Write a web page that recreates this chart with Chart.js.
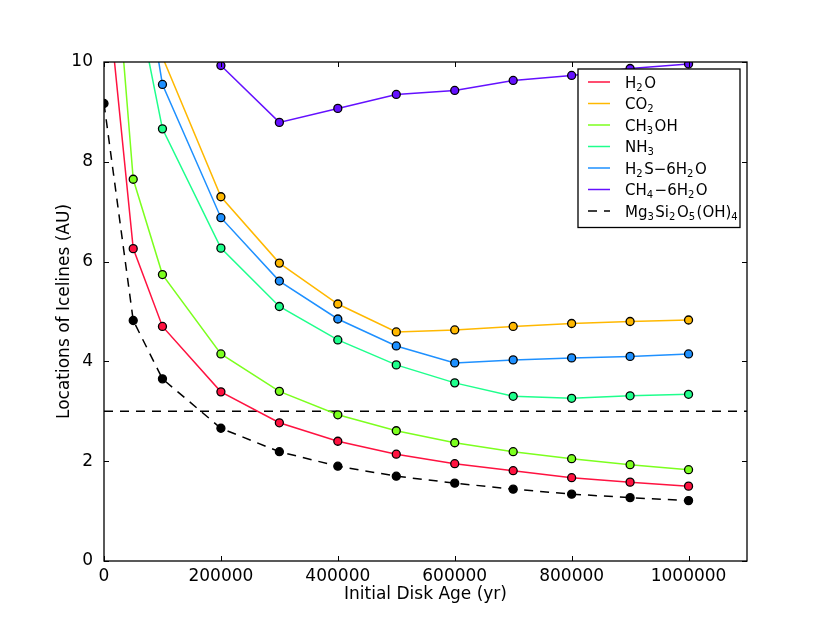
<!DOCTYPE html>
<html>
<head>
<meta charset="utf-8">
<script src="https://cdn.jsdelivr.net/npm/chart.js@4/dist/chart.umd.min.js"></script>
<style>
  body { margin: 0; background: #fff; }
</style>
</head>
<body>
<canvas id="icelines" width="830" height="623"></canvas>
<script>
// disk ages (yr)
const ages = [0, 50000, 100000, 200000, 300000, 400000, 500000, 600000, 700000, 800000, 900000, 1000000];

// iceline locations (AU), first points run off the top of the plot
const h2o   = [12.1, 6.26, 4.70, 3.39, 2.77, 2.40, 2.14, 1.95, 1.81, 1.67, 1.58, 1.50];
const co2   = [20.0, 15.0, 10.1, 7.30, 5.97, 5.15, 4.59, 4.63, 4.70, 4.76, 4.80, 4.83];
const ch3oh = [14.9, 7.65, 5.74, 4.15, 3.40, 2.93, 2.61, 2.37, 2.19, 2.05, 1.93, 1.83];
const nh3   = [18.0, 11.6, 8.66, 6.27, 5.10, 4.43, 3.93, 3.57, 3.30, 3.26, 3.31, 3.34];
const h2s   = [19.0, 13.1, 9.55, 6.88, 5.61, 4.85, 4.31, 3.97, 4.03, 4.07, 4.10, 4.15];
const ch4   = [null, null, null, 9.93, 8.79, 9.07, 9.35, 9.43, 9.63, 9.73, 9.87, 9.96];
const serp  = [9.17, 4.82, 3.65, 2.66, 2.19, 1.90, 1.70, 1.56, 1.44, 1.34, 1.27, 1.21];

// horizontal reference line at 3 AU
const refX = [0, 1100000];
const refY = [3, 3];

const seriesNames = ['H2O', 'CO2', 'CH3OH', 'NH3', 'H2S−6H2O', 'CH4−6H2O', 'Mg3Si2O5(OH)4'];
const seriesData = [h2o, co2, ch3oh, nh3, h2s, ch4, serp];
const seriesColors = ['#ff1240', '#ffb800', '#7cff1e', '#1eff8c', '#1e90ff', '#6410ff', '#000000'];

const xTicks = [0, 200000, 400000, 600000, 800000, 1000000];
const yTicks = [0, 2, 4, 6, 8, 10];

Chart.defaults.font.family = 'DejaVu Sans';
Chart.defaults.font.size = 17;
Chart.defaults.color = '#000';

const toPoints = (xs, ys) => xs.map((x, i) => ({ x: x, y: ys[i] }));

const datasets = seriesData.map((vals, i) => {
  const isSerp = i === seriesData.length - 1;
  return {
    label: seriesNames[i],
    data: toPoints(ages, vals),
    borderColor: seriesColors[i],
    backgroundColor: seriesColors[i],
    borderWidth: 1.5,
    borderDash: isSerp ? [9, 7] : [],
    pointRadius: 4,
    pointBorderColor: '#000',
    pointBorderWidth: 1.3,
    pointBackgroundColor: seriesColors[i],
    tension: 0,
    spanGaps: false,
    clip: 0
  };
});

datasets.push({
  label: 'limit',
  data: toPoints(refX, refY),
  borderColor: '#000',
  borderWidth: 1.5,
  borderDash: [9, 7],
  pointRadius: 0,
  clip: 0
});

// split a formula into normal / subscript runs
function formulaRuns(text) {
  const runs = [];
  for (let i = 0; i < text.length; i++) {
    const ch = text[i];
    const prev = i > 0 ? text[i - 1] : '';
    const last = runs[runs.length - 1];
    const isSub = /[0-9]/.test(ch) &&
      (/[A-Za-z)]/.test(prev) || (/[0-9]/.test(prev) && last && last.sub));
    if (last && last.sub === isSub) {
      last.t += ch;
    } else {
      runs.push({ t: ch, sub: isSub });
    }
  }
  return runs;
}

const framePlugin = {
  id: 'frame',
  afterDatasetsDraw(chart) {
    const { ctx, chartArea: a, scales } = chart;
    ctx.save();
    ctx.strokeStyle = '#000';
    ctx.lineWidth = 1.3;
    ctx.setLineDash([]);
    ctx.strokeRect(a.left, a.top, a.right - a.left, a.bottom - a.top);
    ctx.lineWidth = 1;
    const len = 5;
    ctx.beginPath();
    xTicks.forEach(v => {
      const px = Math.round(scales.x.getPixelForValue(v)) + 0.5;
      ctx.moveTo(px, a.bottom); ctx.lineTo(px, a.bottom - len);
      ctx.moveTo(px, a.top); ctx.lineTo(px, a.top + len);
    });
    yTicks.forEach(v => {
      const py = Math.round(scales.y.getPixelForValue(v)) + 0.5;
      ctx.moveTo(a.left, py); ctx.lineTo(a.left + len, py);
      ctx.moveTo(a.right, py); ctx.lineTo(a.right - len, py);
    });
    ctx.stroke();
    ctx.restore();
  },
  afterDraw(chart) {
    const { ctx, chartArea: a } = chart;
    const boxW = 162, rowH = 21.5;
    const bx = a.right - 7 - boxW, by = a.top + 7;
    const boxH = rowH * seriesNames.length + 8;
    ctx.save();
    ctx.fillStyle = '#fff';
    ctx.fillRect(bx, by, boxW, boxH);
    ctx.strokeStyle = '#000';
    ctx.lineWidth = 1.3;
    ctx.strokeRect(bx, by, boxW, boxH);
    seriesNames.forEach((name, i) => {
      const cy = by + 13 + i * rowH;
      ctx.strokeStyle = seriesColors[i];
      ctx.lineWidth = 1.5;
      ctx.setLineDash(i === seriesNames.length - 1 ? [9, 7] : []);
      ctx.beginPath();
      ctx.moveTo(bx + 10, cy);
      ctx.lineTo(bx + 32, cy);
      ctx.stroke();
      ctx.setLineDash([]);
      let tx = bx + 47;
      ctx.fillStyle = '#000';
      ctx.textBaseline = 'alphabetic';
      formulaRuns(name).forEach(r => {
        ctx.font = (r.sub ? '10px' : '15px') + ' "DejaVu Sans"';
        const y = cy + 5.5 + (r.sub ? 3 : 0);
        ctx.fillText(r.t, tx, y);
        tx += ctx.measureText(r.t).width + (r.sub ? 1.5 : 0);
      });
    });
    ctx.restore();
  }
};

new Chart(document.getElementById('icelines'), {
  type: 'line',
  data: { datasets: datasets },
  options: {
    responsive: false,
    animation: false,
    layout: { padding: { left: 0, right: 83, top: 62, bottom: 0 } },
    plugins: {
      legend: { display: false },
      tooltip: { enabled: false }
    },
    scales: {
      x: {
        type: 'linear',
        min: 0,
        max: 1100000,
        grid: { display: false },
        border: { display: false },
        afterFit(s) { s.height = 62; },
        afterBuildTicks(s) { s.ticks = xTicks.map(v => ({ value: v })); },
        ticks: { padding: -3, maxRotation: 0, autoSkip: false, callback: v => String(v) },
        title: { display: true, text: 'Initial Disk Age (yr)', padding: { top: 0, bottom: 18 } }
      },
      y: {
        min: 0,
        max: 10,
        grid: { display: false },
        border: { display: false },
        afterFit(s) { s.width = 104; },
        afterBuildTicks(s) { s.ticks = yTicks.map(v => ({ value: v })); },
        ticks: { padding: 3, callback: v => String(v) },
        title: { display: true, text: 'Locations of Icelines (AU)', padding: { top: 54, bottom: 0 } }
      }
    }
  },
  plugins: [framePlugin]
});
</script>
</body>
</html>
